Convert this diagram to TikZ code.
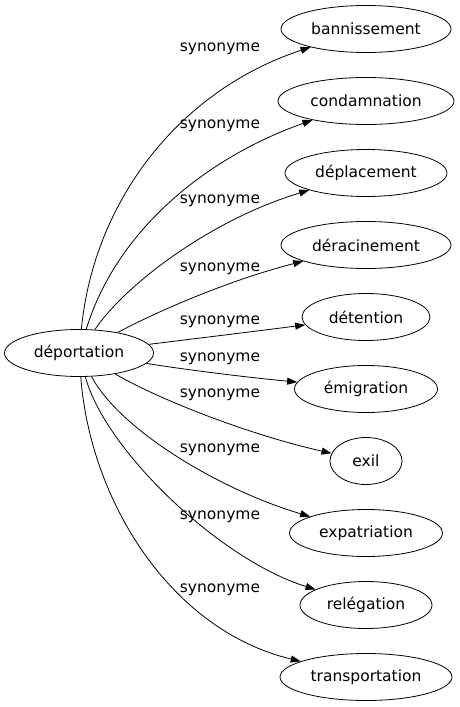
\documentclass[tikz,border=0pt]{standalone}
\usepackage{fontspec}
\setmainfont{DejaVu Sans}
\usetikzlibrary{shapes.geometric,arrows.meta}
\begin{document}
\begin{tikzpicture}[x=1pt,y=-1pt,line width=0.8pt,>={Triangle[length=10pt,width=7pt]},
	word/.style={ellipse, draw, inner sep=0pt, minimum height=47pt, font=\fontsize{15.5}{18}\selectfont},
	lab/.style={inner sep=0pt, font=\fontsize{15.5}{18}\selectfont}]
	\useasboundingbox (0,0) rectangle (459,707);
	\node (dep) at ( 79, 353)	[word, minimum width=149pt]	{déportation};
	\node (ban) at (366,  29)	[word, minimum width=170pt]	{bannissement};
	\node (cond) at (366, 101)	[word, minimum width=176pt]	{condamnation};
	\node (depl) at (366, 173)	[word, minimum width=162pt]	{déplacement};
	\node (derac) at (366, 245)	[word, minimum width=170pt]	{déracinement};
	\node (deten) at (366, 317)	[word, minimum width=128pt]	{détention};
	\node (emig) at (366, 389)	[word, minimum width=143pt]	{émigration};
	\node (exil) at (366, 461)	[word, minimum width=72pt]	{exil};
	\node (expat) at (366, 533)	[word, minimum width=153pt]	{expatriation};
	\node (releg) at (366, 605)	[word, minimum width=132pt]	{relégation};
	\node (transp) at (366, 677)	[word, minimum width=172pt]	{transportation};
	\node (l1) at (220,  49)	[lab]	{synonyme};
	\node (l2) at (220, 126)	[lab]	{synonyme};
	\node (l3) at (220, 201)	[lab]	{synonyme};
	\node (l4) at (220, 269)	[lab]	{synonyme};
	\node (l5) at (220, 322)	[lab]	{synonyme};
	\node (l6) at (220, 359)	[lab]	{synonyme};
	\node (l7) at (220, 395)	[lab]	{synonyme};
	\node (l8) at (220, 450)	[lab]	{synonyme};
	\node (l9) at (220, 517)	[lab]	{synonyme};
	\node (l10) at (220, 590)	[lab]	{synonyme};
	\draw[->] (dep) .. controls ( 94, 200) and (180,  90) .. (ban);
	\draw[->] (dep) .. controls (115, 235) and (200, 160) .. (cond);
	\draw[->] (dep) .. controls (125, 285) and (210, 220) .. (depl);
	\draw[->] (dep) .. controls (160, 310) and (230, 280) .. (derac);
	\draw[->] (dep) .. controls (200, 338) and (250, 332) .. (deten);
	\draw[->] (dep) .. controls (195, 371) and (245, 377) .. (emig);
	\draw[->] (dep) .. controls (160, 400) and (250, 435) .. (exil);
	\draw[->] (dep) .. controls (120, 430) and (220, 490) .. (expat);
	\draw[->] (dep) .. controls (105, 450) and (220, 560) .. (releg);
	\draw[->] (dep) .. controls ( 90, 500) and (170, 630) .. (transp);
\end{tikzpicture}
\end{document}
